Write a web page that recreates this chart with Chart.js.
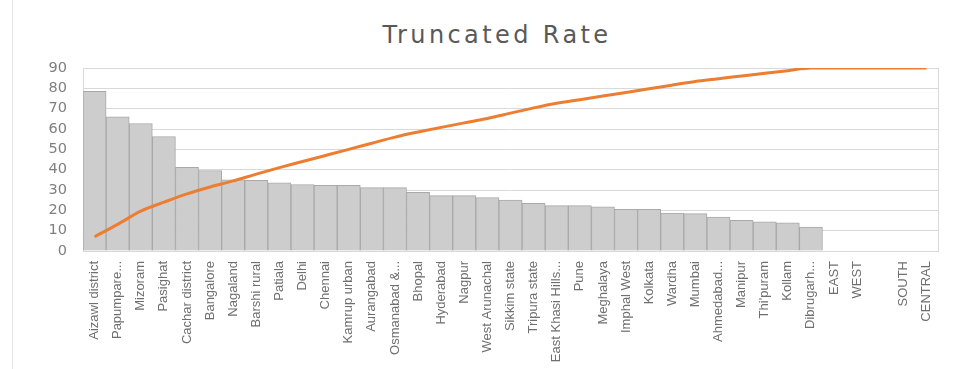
<!DOCTYPE html>
<html>
<head>
<meta charset="utf-8">
<script src="https://cdn.jsdelivr.net/npm/chart.js@4.4.1/dist/chart.umd.min.js"></script>
<style>
  html, body { margin: 0; padding: 0; background: #fff; }
  #wrap { position: relative; width: 974px; height: 369px; }
  #frame { position: absolute; left: 12px; top: 0; width: 0; height: 369px; border-left: 1px solid #e3e3e3; }
  #title {
    position: absolute; left: 0; top: 21px; width: 974px; text-align: center;
    font: 24px "DejaVu Sans", sans-serif; line-height: 28px; letter-spacing: 3.4px;
    color: #595959; padding-left: 20px; box-sizing: border-box;
  }
  canvas { position: absolute; left: 0; top: 0; }
</style>
</head>
<body>
<div id="wrap">
  <div id="frame"></div>
  <div id="title">Truncated Rate</div>
  <canvas id="chart" width="974" height="369"></canvas>
</div>
<script>
// categories (x axis), one blank slot between WEST and SOUTH as in the original
const places = [
  'Aizawl district', 'Papumpare...', 'Mizoram', 'Pasighat', 'Cachar district',
  'Bangalore', 'Nagaland', 'Barshi rural', 'Patiala', 'Delhi', 'Chennai',
  'Kamrup urban', 'Aurangabad', 'Osmanabad &...', 'Bhopal', 'Hyderabad',
  'Nagpur', 'West Arunachal', 'Sikkim state', 'Tripura state',
  'East Khasi Hills...', 'Pune', 'Meghalaya', 'Imphal West', 'Kolkata',
  'Wardha', 'Mumbai', 'Ahmedabad...', 'Manipur', "Thi'puram", 'Kollam',
  'Dibrugarh...', 'EAST', 'WEST', '', 'SOUTH', 'CENTRAL'
];

// bar heights
const rates = [
  78.5, 66, 62.7, 56.3, 41.2, 39.6, 35, 34.8, 33.5, 32.7, 32.3,
  32.3, 31.2, 31.2, 28.9, 27.2, 27.2, 26.3, 25.1, 23.5,
  22.3, 22.3, 21.7, 20.5, 20.5, 18.7, 18.4, 16.7, 15.1, 14.3, 13.8,
  11.8, null, null, null, null, null
];

// orange cumulative line
const cumulative = [
  7, 13.1, 19.6, 24, 28.1, 31.5, 34.5, 37.8, 41, 44, 47,
  50, 53, 56, 58.5, 60.8, 63, 65.2, 67.8, 70.4,
  72.7, 74.4, 76.2, 78, 79.8, 81.6, 83.4, 84.7, 86.1, 87.4, 88.7,
  90, 90, 90, 90, 90, 90
];

const yTicks = { min: 0, max: 90, step: 10 };

// thin grey border round the plot area
const plotBorder = {
  id: 'plotBorder',
  beforeDatasetsDraw(chart) {
    const a = chart.chartArea, ctx = chart.ctx;
    ctx.save();
    ctx.strokeStyle = '#d9d9d9';
    ctx.lineWidth = 1;
    ctx.strokeRect(Math.round(a.left) + 0.5, Math.round(a.top) + 0.5,
      Math.round(a.right - a.left), Math.round(a.bottom - a.top));
    ctx.restore();
  }
};

new Chart(document.getElementById('chart'), {
  data: {
    labels: places,
    datasets: [
      {
        type: 'line',
        data: cumulative,
        borderColor: '#ed7d31',
        borderWidth: 3,
        pointRadius: 0,
        cubicInterpolationMode: 'monotone',
        order: 0
      },
      {
        type: 'bar',
        data: rates,
        backgroundColor: '#cdcdcd',
        borderColor: '#a8a8a8',
        borderWidth: 1,
        categoryPercentage: 1,
        barPercentage: 1,
        order: 1
      }
    ]
  },
  options: {
    responsive: false,
    animation: false,
    layout: { padding: { top: 68, right: 36, left: 0, bottom: 0 } },
    plugins: { legend: { display: false }, tooltip: { enabled: false } },
    scales: {
      x: {
        grid: { display: false },
        border: { color: '#bfbfbf' },
        ticks: {
          autoSkip: false, minRotation: 90, maxRotation: 90, padding: 2,
          color: '#6f6f6f',
          font: { family: '"Liberation Sans", sans-serif', size: 13 }
        },
        afterFit(s) { s.height = 118; }
      },
      y: {
        min: yTicks.min, max: yTicks.max,
        grid: { color: '#d9d9d9', drawTicks: false },
        border: { display: false },
        ticks: {
          stepSize: yTicks.step, autoSkip: false, padding: 16, color: '#7f7f7f',
          font: { family: '"DejaVu Sans", sans-serif', size: 14.5 }
        },
        afterFit(s) { s.width = 83; }
      }
    }
  },
  plugins: [plotBorder]
});
</script>
</body>
</html>
